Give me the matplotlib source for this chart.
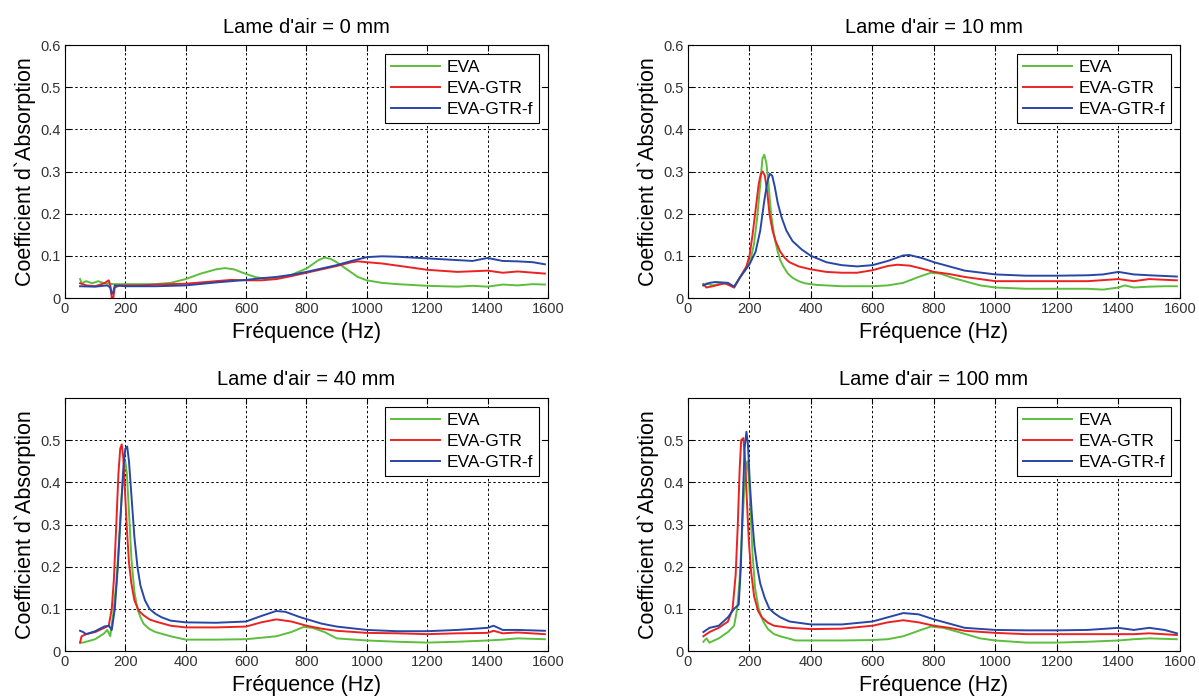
import matplotlib
matplotlib.use("Agg")
import matplotlib.pyplot as plt

plt.rcParams['font.family'] = ['Liberation Sans', 'DejaVu Sans']

# ---- Lame d'air = 0 mm ----
f0_eva = [50, 55, 70, 90, 110, 130, 160, 200, 300, 350, 400, 450, 500, 530, 560, 600, 630, 660, 700, 750, 800, 840,
          860, 880, 900, 930, 970, 1000, 1050, 1100, 1200, 1300, 1350, 1400, 1450, 1500, 1550, 1590]
a0_eva = [0.045, 0.035, 0.04, 0.035, 0.04, 0.035, 0.033, 0.033, 0.033, 0.036, 0.045, 0.058, 0.068, 0.071, 0.068, 0.057,
          0.05, 0.046, 0.046, 0.055, 0.07, 0.09, 0.096, 0.093, 0.085, 0.07, 0.05, 0.042, 0.036, 0.033, 0.029, 0.027,
          0.029, 0.027, 0.032, 0.03, 0.033, 0.032]
f0_gtr = [50, 70, 100, 130, 145, 150, 155, 160, 165, 180, 250, 300, 400, 500, 550, 600, 650, 700, 750, 800, 850, 900,
          950, 970, 1000, 1050, 1100, 1200, 1300, 1400, 1450, 1500, 1590]
a0_gtr = [0.035, 0.03, 0.028, 0.035, 0.042, 0.03, 0.0, 0.0, 0.025, 0.03, 0.03, 0.032, 0.034, 0.04, 0.043, 0.042, 0.042,
          0.045, 0.052, 0.06, 0.068, 0.076, 0.085, 0.087, 0.085, 0.082, 0.077, 0.067, 0.062, 0.065, 0.06, 0.063, 0.058]
f0_gtrf = [50, 100, 140, 150, 155, 160, 165, 200, 300, 400, 500, 600, 650, 700, 750, 800, 850, 900, 950, 1000, 1050,
           1100, 1200, 1300, 1350, 1400, 1450, 1500, 1550, 1590]
a0_gtrf = [0.028, 0.027, 0.03, 0.025, 0.01, 0.015, 0.03, 0.028, 0.028, 0.03, 0.037, 0.043, 0.047, 0.05, 0.055, 0.062,
           0.07, 0.078, 0.088, 0.097, 0.099, 0.098, 0.094, 0.09, 0.088, 0.095, 0.088, 0.087, 0.085, 0.08]

# ---- Lame d'air = 10 mm ----
f10_eva = [50, 60, 80, 100, 130, 150, 170, 190, 205, 215, 225, 235, 242, 248, 255, 262, 270, 280, 290, 300, 310, 325,
           340, 360, 380, 420, 450, 500, 600, 650, 700, 750, 790, 820, 860, 900, 950, 1000, 1100, 1200, 1300, 1350,
           1400, 1420, 1450, 1500, 1550, 1590]
a10_eva = [0.03, 0.035, 0.03, 0.033, 0.035, 0.025, 0.05, 0.07, 0.095, 0.13, 0.19, 0.27, 0.33, 0.34, 0.32, 0.27, 0.2,
           0.15, 0.115, 0.09, 0.075, 0.058, 0.048, 0.04, 0.035, 0.031, 0.03, 0.028, 0.028, 0.03, 0.036, 0.05, 0.06,
           0.058, 0.048, 0.04, 0.03, 0.025, 0.022, 0.022, 0.022, 0.02, 0.025, 0.03, 0.025, 0.027, 0.028, 0.028]
f10_gtr = [50, 60, 80, 120, 150, 170, 190, 200, 210, 220, 230, 237, 243, 250, 258, 265, 275, 285, 300, 315, 330, 360,
           400, 450, 500, 550, 600, 650, 680, 720, 760, 800, 850, 900, 950, 1000, 1100, 1200, 1300, 1400, 1450, 1500,
           1590]
a10_gtr = [0.033, 0.025, 0.028, 0.035, 0.025, 0.05, 0.075, 0.1, 0.15, 0.21, 0.27, 0.295, 0.3, 0.29, 0.25, 0.2, 0.16,
           0.135, 0.11, 0.095, 0.085, 0.075, 0.068, 0.062, 0.06, 0.06, 0.066, 0.076, 0.079, 0.077, 0.07, 0.062, 0.057,
           0.05, 0.045, 0.04, 0.04, 0.04, 0.04, 0.045, 0.04, 0.045, 0.042]
f10_gtrf = [50, 70, 90, 130, 150, 170, 200, 220, 235, 248, 258, 266, 274, 282, 292, 305, 320, 340, 370, 400, 450, 500,
            550, 600, 650, 700, 720, 760, 800, 850, 900, 1000, 1100, 1200, 1300, 1350, 1400, 1450, 1500, 1590]
a10_gtrf = [0.03, 0.036, 0.038, 0.036, 0.027, 0.05, 0.08, 0.11, 0.16, 0.23, 0.275, 0.295, 0.29, 0.265, 0.225, 0.19,
            0.16, 0.135, 0.115, 0.1, 0.085, 0.078, 0.075, 0.078, 0.088, 0.101, 0.102, 0.095, 0.085, 0.075, 0.065, 0.056,
            0.053, 0.053, 0.054, 0.056, 0.062, 0.056, 0.054, 0.051]

# ---- Lame d'air = 40 mm ----
f40_eva = [50, 60, 100, 130, 140, 150, 160, 170, 180, 188, 195, 200, 205, 212, 220, 230, 240, 250, 260, 280, 300, 350,
           400, 500, 600, 700, 750, 790, 820, 860, 900, 1000, 1100, 1200, 1300, 1400, 1450, 1500, 1590]
a40_eva = [0.02, 0.02, 0.028, 0.042, 0.05, 0.035, 0.09, 0.16, 0.27, 0.37, 0.43, 0.45, 0.42, 0.33, 0.22, 0.14, 0.1,
           0.08, 0.065, 0.052, 0.045, 0.035, 0.027, 0.027, 0.028, 0.035, 0.045, 0.057, 0.055, 0.045, 0.03, 0.025, 0.022,
           0.02, 0.022, 0.025, 0.027, 0.03, 0.028]
f40_gtr = [50, 55, 70, 100, 130, 145, 155, 162, 170, 177, 183, 188, 193, 198, 205, 212, 220, 230, 245, 260, 280, 300,
           350, 400, 500, 600, 650, 700, 750, 800, 850, 900, 1000, 1100, 1200, 1300, 1400, 1420, 1450, 1500, 1590]
a40_gtr = [0.02, 0.035, 0.04, 0.045, 0.055, 0.06, 0.1, 0.17, 0.3, 0.42, 0.48, 0.49, 0.46, 0.39, 0.29, 0.21, 0.16, 0.12,
           0.095, 0.085, 0.075, 0.07, 0.06, 0.056, 0.056, 0.058, 0.068, 0.075, 0.07, 0.06, 0.053, 0.048, 0.043, 0.042,
           0.04, 0.042, 0.043, 0.048, 0.042, 0.044, 0.04]
f40_gtrf = [50, 60, 70, 100, 130, 145, 155, 165, 175, 185, 193, 200, 206, 212, 220, 230, 240, 250, 265, 280, 300, 320,
            350, 400, 500, 600, 650, 700, 730, 780, 850, 900, 1000, 1100, 1200, 1300, 1400, 1420, 1450, 1500, 1590]
a40_gtrf = [0.048, 0.045, 0.04, 0.047, 0.058, 0.06, 0.05, 0.1, 0.2, 0.33, 0.43, 0.48, 0.485, 0.45, 0.37, 0.27, 0.2,
            0.155, 0.12, 0.1, 0.088, 0.08, 0.072, 0.068, 0.067, 0.07, 0.083, 0.095, 0.093, 0.08, 0.065, 0.058, 0.05,
            0.047, 0.047, 0.05, 0.055, 0.06, 0.05, 0.05, 0.048]

# ---- Lame d'air = 100 mm ----
f100_eva = [50, 60, 70, 100, 130, 150, 160, 168, 175, 182, 188, 193, 198, 204, 210, 218, 230, 245, 260, 280, 300, 350,
            400, 500, 600, 650, 700, 750, 790, 830, 880, 950, 1000, 1100, 1200, 1300, 1400, 1450, 1500, 1590]
a100_eva = [0.022, 0.03, 0.02, 0.03, 0.045, 0.06, 0.1, 0.17, 0.27, 0.37, 0.43, 0.45, 0.41, 0.32, 0.23, 0.15, 0.1, 0.07,
            0.052, 0.04, 0.035, 0.025, 0.025, 0.025, 0.026, 0.028, 0.035, 0.048, 0.058, 0.055, 0.045, 0.03, 0.025, 0.02,
            0.02, 0.022, 0.025, 0.028, 0.03, 0.028]
f100_gtr = [50, 70, 100, 130, 145, 155, 162, 168, 173, 180, 186, 192, 198, 205, 215, 228, 240, 260, 280, 330, 400, 500,
            600, 650, 700, 750, 800, 850, 900, 1000, 1100, 1200, 1300, 1400, 1450, 1500, 1590]
a100_gtr = [0.035, 0.045, 0.055, 0.07, 0.1, 0.18, 0.3, 0.43, 0.5, 0.505, 0.45, 0.35, 0.26, 0.19, 0.13, 0.095, 0.08,
            0.067, 0.06, 0.055, 0.052, 0.053, 0.06, 0.068, 0.073, 0.068, 0.06, 0.055, 0.048, 0.043, 0.04, 0.04, 0.04,
            0.04, 0.04, 0.042, 0.038]
f100_gtrf = [50, 70, 100, 130, 150, 165, 172, 178, 184, 190, 195, 201, 208, 216, 225, 235, 250, 265, 280, 300, 330,
             400, 500, 600, 650, 700, 750, 800, 850, 900, 1000, 1100, 1200, 1300, 1400, 1450, 1500, 1550, 1590]
a100_gtrf = [0.045, 0.055, 0.06, 0.08, 0.1, 0.11, 0.2, 0.35, 0.48, 0.52, 0.49, 0.4, 0.32, 0.25, 0.2, 0.16, 0.125, 0.1,
             0.09, 0.08, 0.07, 0.063, 0.063, 0.07, 0.08, 0.09, 0.087, 0.075, 0.065, 0.055, 0.05, 0.049, 0.049, 0.05,
             0.055, 0.05, 0.055, 0.05, 0.042]

titles = ["Lame d'air = 0 mm", "Lame d'air = 10 mm", "Lame d'air = 40 mm", "Lame d'air = 100 mm"]
labels = ["EVA", "EVA-GTR", "EVA-GTR-f"]
colors = ["#5cbe3c", "#ec2222", "#2846a6"]

panels = [
    [(f0_eva, a0_eva), (f0_gtr, a0_gtr), (f0_gtrf, a0_gtrf)],
    [(f10_eva, a10_eva), (f10_gtr, a10_gtr), (f10_gtrf, a10_gtrf)],
    [(f40_eva, a40_eva), (f40_gtr, a40_gtr), (f40_gtrf, a40_gtrf)],
    [(f100_eva, a100_eva), (f100_gtr, a100_gtr), (f100_gtrf, a100_gtrf)],
]

boxes = [
    [0.0542, 0.573, 0.4028, 0.3625],
    [0.5738, 0.573, 0.4103, 0.3625],
    [0.0542, 0.0673, 0.4028, 0.3625],
    [0.5738, 0.0673, 0.4103, 0.3625],
]

fig = plt.figure(figsize=(11.99, 6.98), dpi=100)

for k in range(4):
    ax = fig.add_axes(boxes[k])
    for (x, y), lab, c in zip(panels[k], labels, colors):
        ax.plot(x, y, color=c, lw=1.4, label=lab)
    ax.set_xlim(0, 1600)
    ax.set_ylim(0, 0.6)
    ax.set_xticks(range(0, 1601, 200))
    if k < 2:
        ax.set_yticks([0, 0.1, 0.2, 0.3, 0.4, 0.5, 0.6])
        ax.set_yticklabels(['0', '0.1', '0.2', '0.3', '0.4', '0.5', '0.6'])
    else:
        ax.set_yticks([0, 0.1, 0.2, 0.3, 0.4, 0.5])
        ax.set_yticklabels(['0', '0.1', '0.2', '0.3', '0.4', '0.5'])
    ax.grid(True, color='black', linestyle=(0, (2.5, 2.5)), linewidth=0.7)
    ax.tick_params(direction='in', top=True, right=True, labelsize=10.5, labelcolor='#333333',
                   length=4, width=0.8, pad=3)
    for s in ax.spines.values():
        s.set_linewidth(0.8)
    ax.set_title(titles[k], fontsize=14.5, pad=9)
    ax.set_xlabel('Fréquence (Hz)', fontsize=15.5, labelpad=4)
    ax.set_ylabel('Coefficient d`Absorption', fontsize=15.5, labelpad=3)
    leg = ax.legend(loc='upper right', fontsize=12.5, handlelength=2.8, fancybox=False, framealpha=1,
                    edgecolor='black', borderpad=0.35, labelspacing=0.35, handletextpad=0.4,
                    borderaxespad=0.5)
    leg.get_frame().set_linewidth(0.8)

fig.savefig('out.png', dpi=100)
